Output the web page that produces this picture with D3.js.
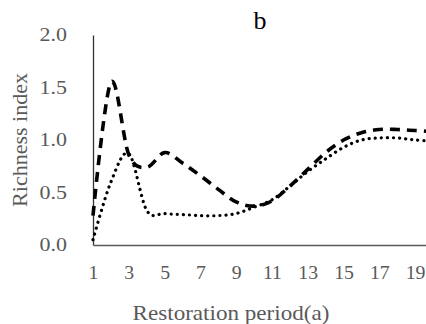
<!DOCTYPE html>
<html>
<head>
<meta charset="utf-8">
<script src="https://cdn.jsdelivr.net/npm/d3@7"></script>
<style>
  html, body { margin: 0; padding: 0; background: #fff; }
  svg { display: block; }
  svg text { font-family: "Liberation Serif", "Times New Roman", serif !important; }
</style>
</head>
<body>
<svg id="chart" width="426" height="324"></svg>
<script>
// Restoration years
const years = [1, 2, 3, 4, 5, 6, 7, 8, 9, 10, 11, 12, 13, 14, 15, 16, 17, 18, 19, 20];
// Richness index, dashed series
const dashedSeries = [0.28, 1.55, 0.86, 0.74, 0.88, 0.78, 0.66, 0.53, 0.41, 0.37, 0.42, 0.56, 0.72, 0.88, 1.0, 1.07, 1.1, 1.1, 1.09, 1.08];
// Richness index, dotted series
const dottedSeries = [0.05, 0.6, 0.87, 0.33, 0.3, 0.29, 0.28, 0.28, 0.3, 0.36, 0.43, 0.56, 0.7, 0.82, 0.93, 1.0, 1.02, 1.02, 1.0, 0.99];
const xTicks = [1, 3, 5, 7, 9, 11, 13, 15, 17, 19];
const yTicks = [0, 0.5, 1.0, 1.5, 2.0];

const svg = d3.select("#chart");
const x = d3.scaleLinear().domain([1, 20]).range([93, 433]);
const y = d3.scaleLinear().domain([0, 2]).range([245, 35]);
const grey = "#595959";
const stretch = 1.22; // horizontal stretch of the serif glyphs

// Title
svg.append("text")
  .attr("x", 260).attr("y", 29)
  .attr("text-anchor", "middle")
  .attr("font-size", 26)
  .attr("fill", "#000")
  .text("b");

// Y axis
const yAxis = svg.append("g").attr("transform", `translate(${x(1)},0)`)
  .call(d3.axisLeft(y).tickValues(yTicks).tickSize(0).tickPadding(26)
    .tickFormat(d3.format(".1f")));
yAxis.select(".domain").attr("stroke", "#333").attr("stroke-width", 1.3);
yAxis.selectAll(".tick text")
  .attr("font-size", 18).attr("fill", grey)
  .attr("x", -26 / stretch)
  .attr("transform", `scale(${stretch},1)`);

// X axis
const xAxis = svg.append("g").attr("transform", `translate(0,${y(0)})`)
  .call(d3.axisBottom(x).tickValues(xTicks).tickSize(0).tickPadding(21)
    .tickFormat(d3.format("d")));
xAxis.select(".domain").attr("stroke", grey).attr("stroke-width", 1.5);
xAxis.selectAll(".tick text")
  .attr("font-size", 18).attr("fill", grey)
  .attr("transform", "scale(1.1,1)");

// Axis titles
svg.append("text")
  .attr("transform", "translate(231,320) scale(1.1,1)")
  .attr("text-anchor", "middle")
  .attr("font-size", 21)
  .attr("fill", grey)
  .text("Restoration period(a)");

svg.append("text")
  .attr("transform", "translate(27,140) rotate(-90)")
  .attr("text-anchor", "middle")
  .attr("font-size", 22)
  .attr("fill", grey)
  .text("Richness index");

// Series lines
const line = d3.line()
  .x((d, i) => x(years[i]))
  .y(d => y(d))
  .curve(d3.curveCardinal.tension(0));

svg.append("path")
  .datum(dottedSeries)
  .attr("d", line)
  .attr("fill", "none")
  .attr("stroke", "#000")
  .attr("stroke-width", 3.2)
  .attr("stroke-linecap", "round")
  .attr("stroke-dasharray", "0.1 6");

svg.append("path")
  .datum(dashedSeries)
  .attr("d", line)
  .attr("fill", "none")
  .attr("stroke", "#000")
  .attr("stroke-width", 3.6)
  .attr("stroke-dasharray", "10 7");
</script>
</body>
</html>
